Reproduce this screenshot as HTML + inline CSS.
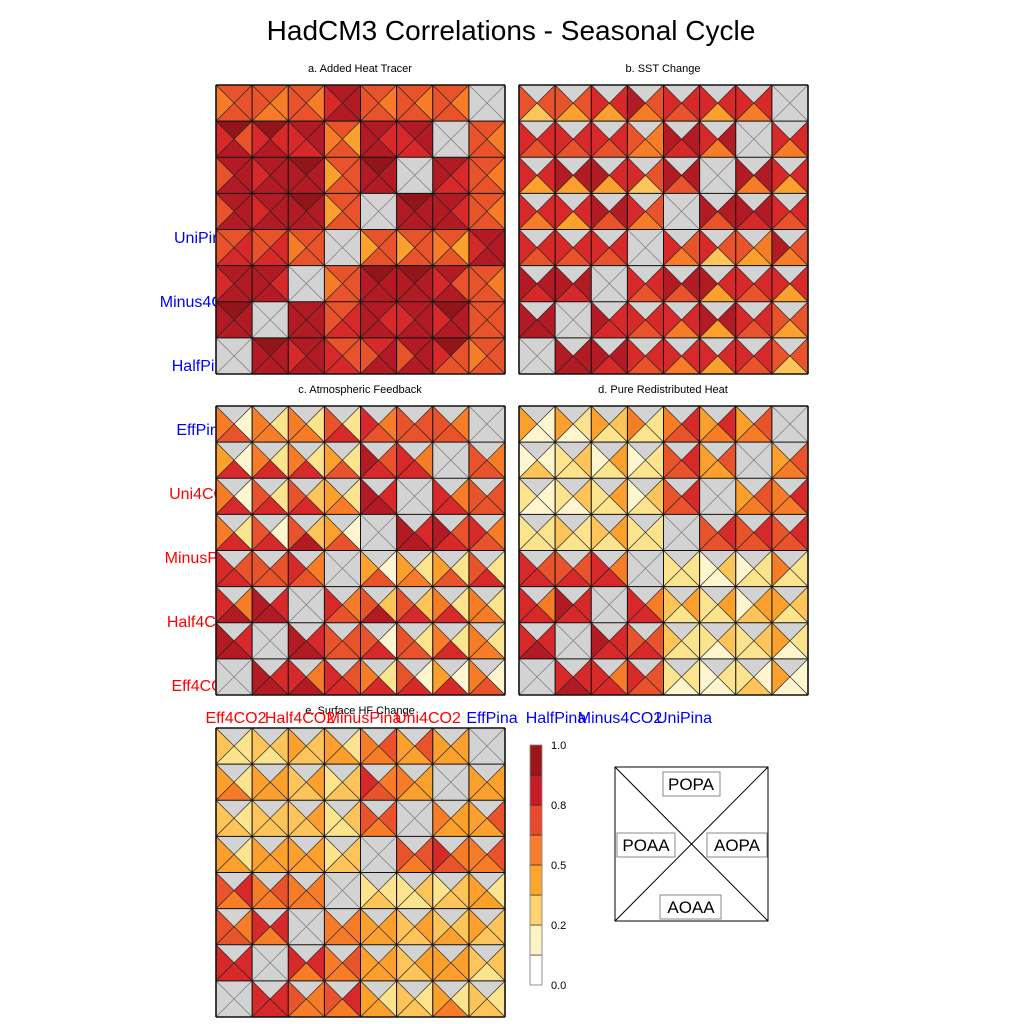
<!DOCTYPE html>
<html><head><meta charset="utf-8"><style>
body{margin:0;background:#fff;width:1024px;height:1024px;overflow:hidden}
svg{display:block;font-family:"Liberation Sans",Arial,sans-serif}
</style></head><body>
<svg id="c" width="1024" height="1024" viewBox="0 0 1024 1024">
<text x="511" y="40" font-size="28" text-anchor="middle">HadCM3 Correlations - Seasonal Cycle</text>
<g id="ylabels"></g>
<g id="panels"></g>
<g id="xlabels"></g>
<g id="cbar"></g>
<g id="legend">
<rect x="615" y="767" width="153" height="154" fill="#fff" stroke="#000" stroke-width="1"/>
<line x1="615" y1="767" x2="768" y2="921" stroke="#000"/>
<line x1="768" y1="767" x2="615" y2="921" stroke="#000"/>
<rect x="663" y="772" width="57" height="24" fill="#fff" stroke="#888"/>
<text x="691" y="790" font-size="17" text-anchor="middle">POPA</text>
<rect x="617" y="833" width="58" height="24" fill="#fff" stroke="#888"/>
<text x="646" y="851" font-size="17" text-anchor="middle">POAA</text>
<rect x="707" y="833" width="60" height="24" fill="#fff" stroke="#888"/>
<text x="737" y="851" font-size="17" text-anchor="middle">AOPA</text>
<rect x="660" y="895" width="61" height="24" fill="#fff" stroke="#888"/>
<text x="691" y="913" font-size="17" text-anchor="middle">AOAA</text>
</g>
</svg>
<script>
// Category labels
const xCategories = ["Eff4CO2","Half4CO2","MinusPina","Uni4CO2","EffPina","HalfPina","Minus4CO2","UniPina"];
const xColors = ["red","red","red","red","blue","blue","blue","blue"];
const yCategories = ["UniPina","Minus4CO2","HalfPina","EffPina","Uni4CO2","MinusPina","Half4CO2","Eff4CO2"];
const yColors = ["blue","blue","blue","blue","red","red","red","red"];
const cbarTicks = [0.0,0.2,0.5,0.8,1.0];
const cbarLevels = [0,0.1,0.2,0.35,0.5,0.65,0.8,0.9,1.0];
const cbarColors = ["#ffffff","#fef3c4","#fdd26f","#fca62e","#f77c2c","#e8492b","#c71c26","#9b1519"];
// Panel titles
const panelTitles = ["a. Added Heat Tracer","b. SST Change","c. Atmospheric Feedback","d.  Pure Redistributed Heat","e. Surface HF Change"];
// Values: each cell = 4 digits (top,left,right,bottom); digit d -> correlation (d+0.5)/10 ; g = missing
const panelA = [
"6566 6655 6656 8788 6656 6656 6656 gggg",
"9768 9778 8787 6546 8878 8787 gggg 6656",
"8688 8788 9888 6466 9888 gggg 8877 6656",
"8688 8788 9888 6466 gggg 9888 8878 6656",
"6677 6677 6566 gggg 6466 6466 6546 8788",
"8788 8878 gggg 6566 9888 9888 8768 6656",
"9888 gggg 8888 6677 8878 8788 9788 6666",
"gggg 9888 8788 6767 7688 8688 9766 6566"];
const panelB = [
"g663 g664 g774 g865 g776 g774 g775 gggg",
"g776 g776 g776 g655 g887 g785 gggg g775",
"g774 g884 g874 g763 g886 gggg g885 g774",
"g775 g774 g886 g765 gggg g886 g887 g776",
"g776 g776 g776 gggg g765 g763 g654 g865",
"g887 g887 gggg g776 g886 g874 g776 g774",
"g888 gggg g877 g776 g775 g884 g776 g664",
"gggg g888 g887 g776 g775 g774 g776 g663"];
const panelC = [
"g516 g525 g525 g627 g756 g666 g656 gggg",
"g417 g527 g527 g426 g867 g757 gggg g656",
"g517 g627 g637 g425 g878 gggg g757 g666",
"g527 g617 g638 g416 gggg g878 g867 g756",
"g767 g666 g756 gggg g416 g425 g426 g627",
"g758 g878 gggg g756 g638 g637 g527 g525",
"g878 gggg g878 g666 g617 g626 g527 g525",
"gggg g878 g758 g767 g527 g617 g417 g516"];
const panelD = [
"g411 g421 g432 g522 g576 g475 g465 gggg",
"g113 g232 g142 g122 g676 g464 gggg g465",
"g211 g231 g242 g132 g676 gggg g465 g575",
"g222 g322 g342 g222 gggg g676 g676 g676",
"g767 g667 g757 gggg g222 g131 g122 g522",
"g757 g877 gggg g757 g342 g242 g143 g432",
"g778 gggg g877 g667 g322 g231 g232 g421",
"gggg g778 g757 g766 g221 g121 g213 g411"];
const panelE = [
"g322 g332 g433 g424 g565 g464 g444 gggg",
"g425 g444 g343 g233 g756 g544 gggg g444",
"g323 g333 g343 g232 g665 gggg g544 g464",
"g424 g444 g444 g233 gggg g665 g756 g565",
"g675 g565 g555 gggg g223 g232 g233 g424",
"g656 g775 gggg g555 g444 g343 g334 g433",
"g777 gggg g775 g565 g444 g343 g444 g332",
"gggg g777 g655 g675 g424 g323 g425 g323"];

const palette = ["#ffffff","#fff6d0","#fce38e","#fdc45a","#fba02c","#f67c28","#e9532b","#d7282a","#b21b23","#921519"];
const NS = "http://www.w3.org/2000/svg";
function mk(tag, attrs, parent){const e=document.createElementNS(NS,tag);for(const k in attrs)e.setAttribute(k,attrs[k]);parent.appendChild(e);return e;}
function colorFor(v){ if(v===null) return "#d3d3d3"; return palette[Math.max(0,Math.min(9,Math.floor(v*10)))]; }
function parse(rows){return rows.map(r=>r.split(" ").map(c=>c.split("").map(ch=>ch==="g"?null:(Number(ch)+0.5)/10)));}

const panelDefs = [
 {data:panelA,x:216,y:85,tx:360,ty:72,name:"panel-a"},
 {data:panelB,x:519,y:85,tx:663,ty:72,name:"panel-b"},
 {data:panelC,x:216,y:406,tx:360,ty:393,name:"panel-c"},
 {data:panelD,x:519,y:406,tx:663,ty:393,name:"panel-d"},
 {data:panelE,x:216,y:728,tx:360,ty:714,name:"panel-e"}];
const W=289, n=8;

const yl=document.getElementById("ylabels");
yCategories.forEach((lab,i)=>{
  const t=mk("text",{x:202,y:243+64*i,"font-size":16,"text-anchor":"middle",fill:yColors[i]},yl);
  
  
  t.textContent=lab;
});

const pg=document.getElementById("panels");
panelDefs.forEach((p,pi)=>{
  const g=mk("g",{},pg);
  
  
  const t=mk("text",{x:p.tx,y:p.ty,"font-size":11,"text-anchor":"middle"},pg);
  
  
  t.textContent=panelTitles[pi];
  const vals=parse(p.data); const cs=W/n;
  const xs=j=>p.x+j*cs, ys=i=>p.y+i*cs;
  vals.forEach((row,i)=>row.forEach((cell,j)=>{
    const x0=xs(j),y0=ys(i),x1=xs(j+1),y1=ys(i+1),cx=(x0+x1)/2,cy=(y0+y1)/2;
    const tris=[[x0,y0,x1,y0],[x0,y0,x0,y1],[x1,y0,x1,y1],[x0,y1,x1,y1]];
    const nm=['top','left','right','bottom'];
    tris.forEach((tr,k)=>{
      const v=cell[k];
      const poly=mk("polygon",{points:`${tr[0]},${tr[1]} ${tr[2]},${tr[3]} ${cx},${cy}`,fill:colorFor(v),stroke:v===null?"#777":"#222","stroke-width":0.6,"stroke-linejoin":"round"},g);
      
      
    });
  }));
  for(let k=0;k<=n;k++){
    mk("line",{x1:xs(k),y1:p.y,x2:xs(k),y2:p.y+W,stroke:"#111","stroke-width":k%n===0?1.6:1},g);
    mk("line",{x1:p.x,y1:ys(k),x2:p.x+W,y2:ys(k),stroke:"#111","stroke-width":k%n===0?1.6:1},g);
  }
});

const xl=document.getElementById("xlabels");
xCategories.forEach((lab,i)=>{
  const t=mk("text",{x:236+64*i,y:723,"font-size":16,"text-anchor":"middle",fill:xColors[i]},xl);
  
  
  t.textContent=lab;
});

const cb=document.getElementById("cbar");


const cbTop=745, cbH=240, nb=cbarColors.length;
cbarColors.forEach((c,k)=>{
  const r=mk("rect",{x:530,y:cbTop+cbH-(k+1)*cbH/nb,width:12,height:cbH/nb,fill:c,stroke:"#222","stroke-width":0.6},cb);
  
  
});
mk("rect",{x:530,y:cbTop,width:12,height:cbH,fill:"none",stroke:"#999","stroke-width":0.8},cb);
cbarTicks.forEach(v=>{
  const k=cbarLevels.indexOf(v);
  const y=cbTop+cbH-k*cbH/nb;
  const t=mk("text",{x:551,y:y+4,"font-size":11},cb);
  
  
  t.textContent=v.toFixed(1);
});
</script>
</body></html>
